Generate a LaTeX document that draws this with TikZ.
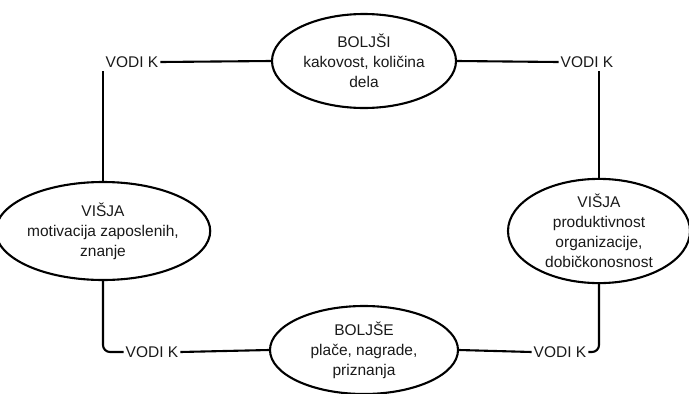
\documentclass[tikz,border=0pt]{standalone}
\usepackage{fontspec}
\setmainfont{Liberation Sans}
\usetikzlibrary{shapes.geometric}
\begin{document}
\begin{tikzpicture}[x=1pt,y=-1pt,
  every node/.style={font=\fontsize{15.5}{20}\selectfont, text=black!90},
  oval/.style={ellipse, draw=black, line width=2.1pt, inner sep=0pt, align=center},
  lbl/.style={inner xsep=2pt, inner ysep=3pt},
  conn/.style={draw=black, line width=2.1pt, rounded corners=7pt}]
\useasboundingbox (0,0) rectangle (689,394);
\node[oval, minimum width=184pt, minimum height=94pt] (e1) at (364,61) {BOLJŠI\\kakovost, količina\\dela};
\node[oval, minimum width=182pt, minimum height=98pt] (e2) at (599,231) {VIŠJA\\produktivnost\\organizacije,\\dobičkonosnost};
\node[oval, minimum width=188pt, minimum height=88pt] (e3) at (364,350) {BOLJŠE\\plače, nagrade,\\priznanja};
\node[oval, minimum width=186pt, minimum height=98pt] (e4) at (103,231) {VIŠJA\\motivacija zaposlenih,\\znanje};
\node[lbl] (v1) at (132,62) {VODI K};
\node[lbl] (v2) at (587,62) {VODI K};
\node[lbl] (v3) at (560,352) {VODI K};
\node[lbl] (v4) at (152,352) {VODI K};
\draw[conn] (v1.east) -- (e1.west);
\draw[conn] (e1.east) -- (v2.west);
\draw[conn] (e2.north) -- (e2.north |- v2.south);
\draw[conn] (e2.south) -- (e2.south |- v3.east) -- (v3.east);
\draw[conn] (e3.east) -- (v3.west);
\draw[conn] (v4.east) -- (e3.west);
\draw[conn] (e4.south) -- (e4.south |- v4.west) -- (v4.west);
\draw[conn] (e4.north) -- (e4.north |- v1.south);
\end{tikzpicture}
\end{document}
